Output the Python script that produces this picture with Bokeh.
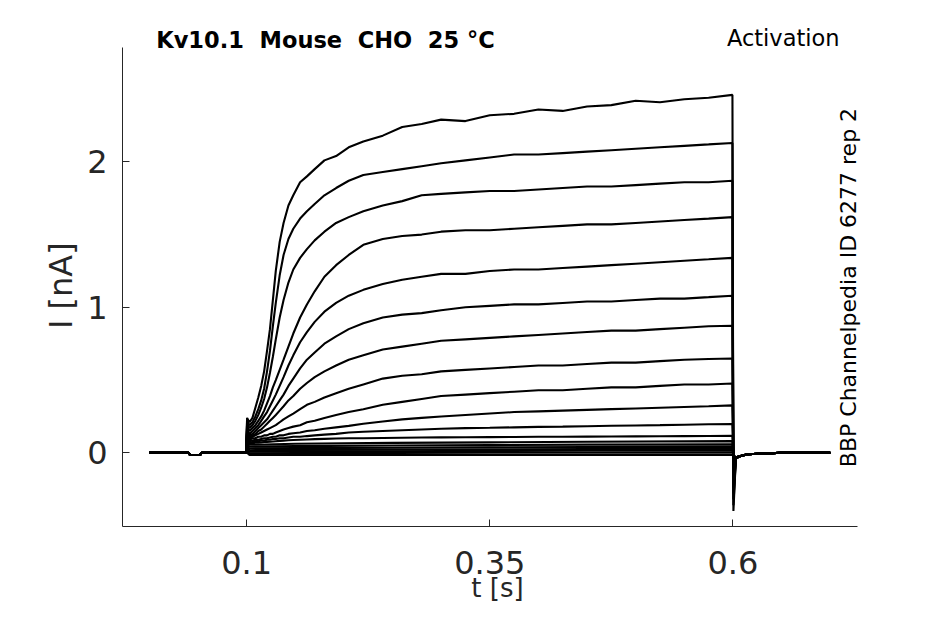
import math
from bokeh.plotting import figure
from bokeh.models import Range1d, FixedTicker, Label, ColumnDataSource
from bokeh.embed import file_html
from bokeh.resources import INLINE

# ---- data (time in s, current in nA) ----
base_t = [0.0, 0.040, 0.042, 0.052, 0.054, 0.0995]
base_i = [0.0, 0.0, -0.015, -0.015, 0.0, 0.0]

pulse_t = [0.1005, 0.103, 0.106, 0.109, 0.112, 0.115, 0.118, 0.121, 0.124, 0.127,
           0.130, 0.134, 0.138, 0.143, 0.148, 0.155, 0.162, 0.170, 0.180, 0.192,
           0.205, 0.220, 0.240, 0.260, 0.280, 0.300, 0.325, 0.350, 0.375, 0.400,
           0.425, 0.450, 0.475, 0.500, 0.525, 0.550, 0.575, 0.5995]

pulse_01 = [0.24, 0.21, 0.24, 0.31, 0.38, 0.46, 0.56, 0.70, 0.85, 1.05, 1.25, 1.45, 1.58, 1.70, 1.77, 1.86, 1.90, 1.95, 2.01, 2.04,
            2.10, 2.14, 2.18, 2.24, 2.26, 2.29, 2.28, 2.32, 2.33, 2.36, 2.35, 2.38, 2.39, 2.42, 2.41, 2.43, 2.44, 2.46]
pulse_02 = [0.22, 0.19, 0.21, 0.25, 0.30, 0.36, 0.44, 0.56, 0.70, 0.87, 1.03, 1.22, 1.36, 1.47, 1.54, 1.61, 1.66, 1.71, 1.77, 1.82,
            1.87, 1.91, 1.93, 1.95, 1.97, 1.99, 2.01, 2.03, 2.05, 2.05, 2.06, 2.07, 2.08, 2.09, 2.10, 2.11, 2.12, 2.13]
pulse_03 = [0.20, 0.17, 0.19, 0.22, 0.26, 0.31, 0.37, 0.45, 0.55, 0.66, 0.78, 0.93, 1.05, 1.17, 1.26, 1.34, 1.40, 1.46, 1.52, 1.58,
            1.62, 1.66, 1.70, 1.73, 1.77, 1.78, 1.79, 1.80, 1.80, 1.81, 1.82, 1.83, 1.83, 1.84, 1.85, 1.86, 1.86, 1.87]
pulse_04 = [0.18, 0.15, 0.17, 0.19, 0.22, 0.25, 0.29, 0.34, 0.39, 0.45, 0.50, 0.57, 0.64, 0.73, 0.82, 0.93, 1.02, 1.11, 1.21, 1.29,
            1.36, 1.43, 1.47, 1.49, 1.50, 1.52, 1.53, 1.53, 1.54, 1.55, 1.56, 1.57, 1.57, 1.58, 1.59, 1.60, 1.61, 1.62]
pulse_05 = [0.16, 0.13, 0.15, 0.17, 0.19, 0.22, 0.25, 0.28, 0.32, 0.36, 0.40, 0.46, 0.52, 0.60, 0.67, 0.76, 0.83, 0.90, 0.97, 1.03,
            1.08, 1.12, 1.16, 1.19, 1.21, 1.23, 1.23, 1.25, 1.26, 1.26, 1.27, 1.28, 1.29, 1.30, 1.31, 1.32, 1.33, 1.34]
pulse_06 = [0.15, 0.12, 0.13, 0.15, 0.17, 0.19, 0.21, 0.23, 0.26, 0.29, 0.32, 0.36, 0.40, 0.46, 0.51, 0.58, 0.64, 0.69, 0.75, 0.80,
            0.85, 0.89, 0.93, 0.95, 0.96, 0.98, 1.00, 1.01, 1.02, 1.02, 1.03, 1.04, 1.04, 1.05, 1.06, 1.06, 1.07, 1.08]
pulse_07 = [0.14, 0.11, 0.12, 0.13, 0.15, 0.16, 0.18, 0.20, 0.22, 0.24, 0.26, 0.29, 0.32, 0.36, 0.39, 0.44, 0.48, 0.52, 0.56, 0.60,
            0.64, 0.67, 0.71, 0.73, 0.75, 0.77, 0.78, 0.79, 0.80, 0.81, 0.82, 0.83, 0.84, 0.84, 0.85, 0.86, 0.87, 0.873]
pulse_08 = [0.13, 0.10, 0.11, 0.12, 0.13, 0.14, 0.15, 0.16, 0.17, 0.18, 0.19, 0.21, 0.23, 0.25, 0.27, 0.30, 0.33, 0.35, 0.38, 0.41,
            0.44, 0.47, 0.51, 0.53, 0.54, 0.56, 0.57, 0.58, 0.59, 0.60, 0.60, 0.61, 0.62, 0.62, 0.63, 0.64, 0.645, 0.648]
pulse_09 = [0.12, 0.09, 0.10, 0.10, 0.11, 0.11, 0.12, 0.12, 0.13, 0.13, 0.14, 0.15, 0.16, 0.17, 0.18, 0.19, 0.21, 0.22, 0.24, 0.26,
            0.28, 0.30, 0.33, 0.35, 0.37, 0.39, 0.40, 0.41, 0.42, 0.43, 0.43, 0.44, 0.45, 0.45, 0.46, 0.47, 0.47, 0.476]
pulse_10 = [0.10, 0.08, 0.085, 0.09, 0.09, 0.095, 0.10, 0.10, 0.105, 0.11, 0.11, 0.12, 0.12, 0.13, 0.135, 0.14, 0.15, 0.155, 0.165, 0.175,
            0.185, 0.20, 0.215, 0.23, 0.24, 0.25, 0.26, 0.27, 0.28, 0.285, 0.29, 0.295, 0.30, 0.305, 0.31, 0.315, 0.32, 0.326]
pulse_11 = [0.09, 0.07, 0.075, 0.08, 0.08, 0.085, 0.085, 0.09, 0.09, 0.095, 0.095, 0.10, 0.10, 0.105, 0.11, 0.11, 0.115, 0.12, 0.125, 0.13,
            0.14, 0.145, 0.15, 0.155, 0.16, 0.165, 0.17, 0.172, 0.175, 0.178, 0.18, 0.183, 0.186, 0.188, 0.19, 0.193, 0.196, 0.198]
pulse_12 = [0.08, 0.06, 0.065, 0.07, 0.07, 0.072, 0.074, 0.075, 0.076, 0.078, 0.08, 0.082, 0.084, 0.086, 0.088, 0.09, 0.092, 0.094, 0.096, 0.098,
            0.10, 0.10, 0.102, 0.104, 0.105, 0.106, 0.107, 0.108, 0.109, 0.11, 0.11, 0.111, 0.112, 0.113, 0.114, 0.115, 0.116, 0.117]
big_pulses = [pulse_01, pulse_02, pulse_03, pulse_04, pulse_05, pulse_06,
              pulse_07, pulse_08, pulse_09, pulse_10, pulse_11, pulse_12]

band_t = [0.1005, 0.103, 0.150, 0.250, 0.350, 0.450, 0.5995]
band_13 = [0.07, 0.055, 0.062, 0.068, 0.072, 0.076, 0.080]
band_14 = [0.055, 0.042, 0.046, 0.050, 0.053, 0.056, 0.058]
band_15 = [0.04, 0.03, 0.032, 0.035, 0.038, 0.040, 0.042]
band_16 = [0.03, 0.018, 0.020, 0.022, 0.024, 0.026, 0.027]
band_17 = [0.02, 0.008, 0.010, 0.011, 0.013, 0.014, 0.015]
band_18 = [0.01, -0.003, -0.002, -0.001, 0.0, 0.0, 0.001]
band_19 = [0.0, -0.015, -0.015, -0.015, -0.015, -0.015, -0.015]
band_pulses = [band_13, band_14, band_15, band_16, band_17, band_18, band_19]

tail_t = [0.6005, 0.603, 0.606, 0.615, 0.650, 0.700]
tail_spike = [-0.40, -0.36, -0.32, -0.28, -0.24, -0.20, -0.17, -0.13, -0.10, -0.07,
              -0.05, -0.04, -0.03, -0.025, -0.02, -0.015, -0.01, -0.01, -0.01]
tail_rest = [-0.04, -0.025, -0.01, 0.0, 0.0]

x_ticks = [0.1, 0.35, 0.6]
x_tick_labels = ["0.1", "0.35", "0.6"]
y_ticks = [0, 1, 2]
y_tick_labels = ["0", "1", "2"]

# axis extents (data units); the frame is a little larger for the side texts
X_AXIS = (-0.0276, 0.7278)
Y_AXIS = (-0.5065, 2.788)

xs, ys = [], []
k = 0
for pul in big_pulses:
    xs.append(base_t + pulse_t + tail_t)
    ys.append(base_i + pul + [tail_spike[k]] + tail_rest)
    k += 1
for pul in band_pulses:
    xs.append(base_t + band_t + tail_t)
    ys.append(base_i + pul + [tail_spike[k]] + tail_rest)
    k += 1

FONT = "DejaVu Sans"
AX = "#262626"

p = figure(width=929, height=608, output_backend="svg", toolbar_location=None,
           x_range=Range1d(X_AXIS[0], 0.7435), y_range=Range1d(Y_AXIS[0], 2.944),
           min_border_left=122, min_border_right=57, min_border_top=24,
           min_border_bottom=82)
p.background_fill_color = "white"
p.border_fill_color = "white"
p.outline_line_color = None
p.xgrid.visible = False
p.ygrid.visible = False

p.multi_line(xs="xs", ys="ys", source=ColumnDataSource(dict(xs=xs, ys=ys)),
             line_color="black", line_width=2.1)

for ax in (p.xaxis[0], p.yaxis[0]):
    ax.axis_line_color = AX
    ax.major_tick_line_color = AX
    ax.minor_tick_line_color = None
    ax.major_tick_in = 7
    ax.major_tick_out = 0
    ax.major_label_text_font = FONT
    ax.major_label_text_font_size = "32px"
    ax.major_label_text_color = AX
    ax.axis_label_text_font = FONT
    ax.axis_label_text_font_size = "32px"
    ax.axis_label_text_font_style = "normal"
    ax.axis_label_text_color = AX

p.xaxis.bounds = X_AXIS
p.yaxis.bounds = Y_AXIS
p.xaxis.ticker = FixedTicker(ticks=x_ticks)
p.xaxis.major_label_overrides = dict(zip(x_ticks, x_tick_labels))
p.xaxis.major_label_standoff = 24
p.xaxis.axis_label = "t [s]"
p.xaxis.axis_label_text_font_size = "26px"
p.xaxis.axis_label_standoff = -4
p.yaxis.ticker = FixedTicker(ticks=y_ticks)
p.yaxis.major_label_overrides = dict(zip(y_ticks, y_tick_labels))
p.yaxis.major_label_standoff = 15
# two trailing no-break spaces nudge the centred label down onto the axis middle
p.yaxis.axis_label = "I [nA]\u00a0\u00a0"
p.yaxis.axis_label_standoff = 4

p.add_layout(Label(x=0.0071, y=2.839, text="Kv10.1\u00a0 Mouse\u00a0 CHO\u00a0 25 \u00b0C",
                   text_font=FONT, text_font_size="22.5px", text_font_style="bold",
                   text_color="black", text_align="left", text_baseline="alphabetic"))
p.add_layout(Label(x=0.7096, y=2.848, text="Activation", text_font=FONT,
                   text_font_size="22.5px", text_color="black", text_align="right",
                   text_baseline="alphabetic"))
p.add_layout(Label(x=0.7191, y=1.136, text="BBP Channelpedia ID 6277 rep 2",
                   text_font=FONT, text_font_size="22px", text_color="black",
                   text_align="center", text_baseline="alphabetic",
                   angle=math.pi / 2, angle_units="rad"))

open("out.html", "w").write(file_html(p, INLINE))
